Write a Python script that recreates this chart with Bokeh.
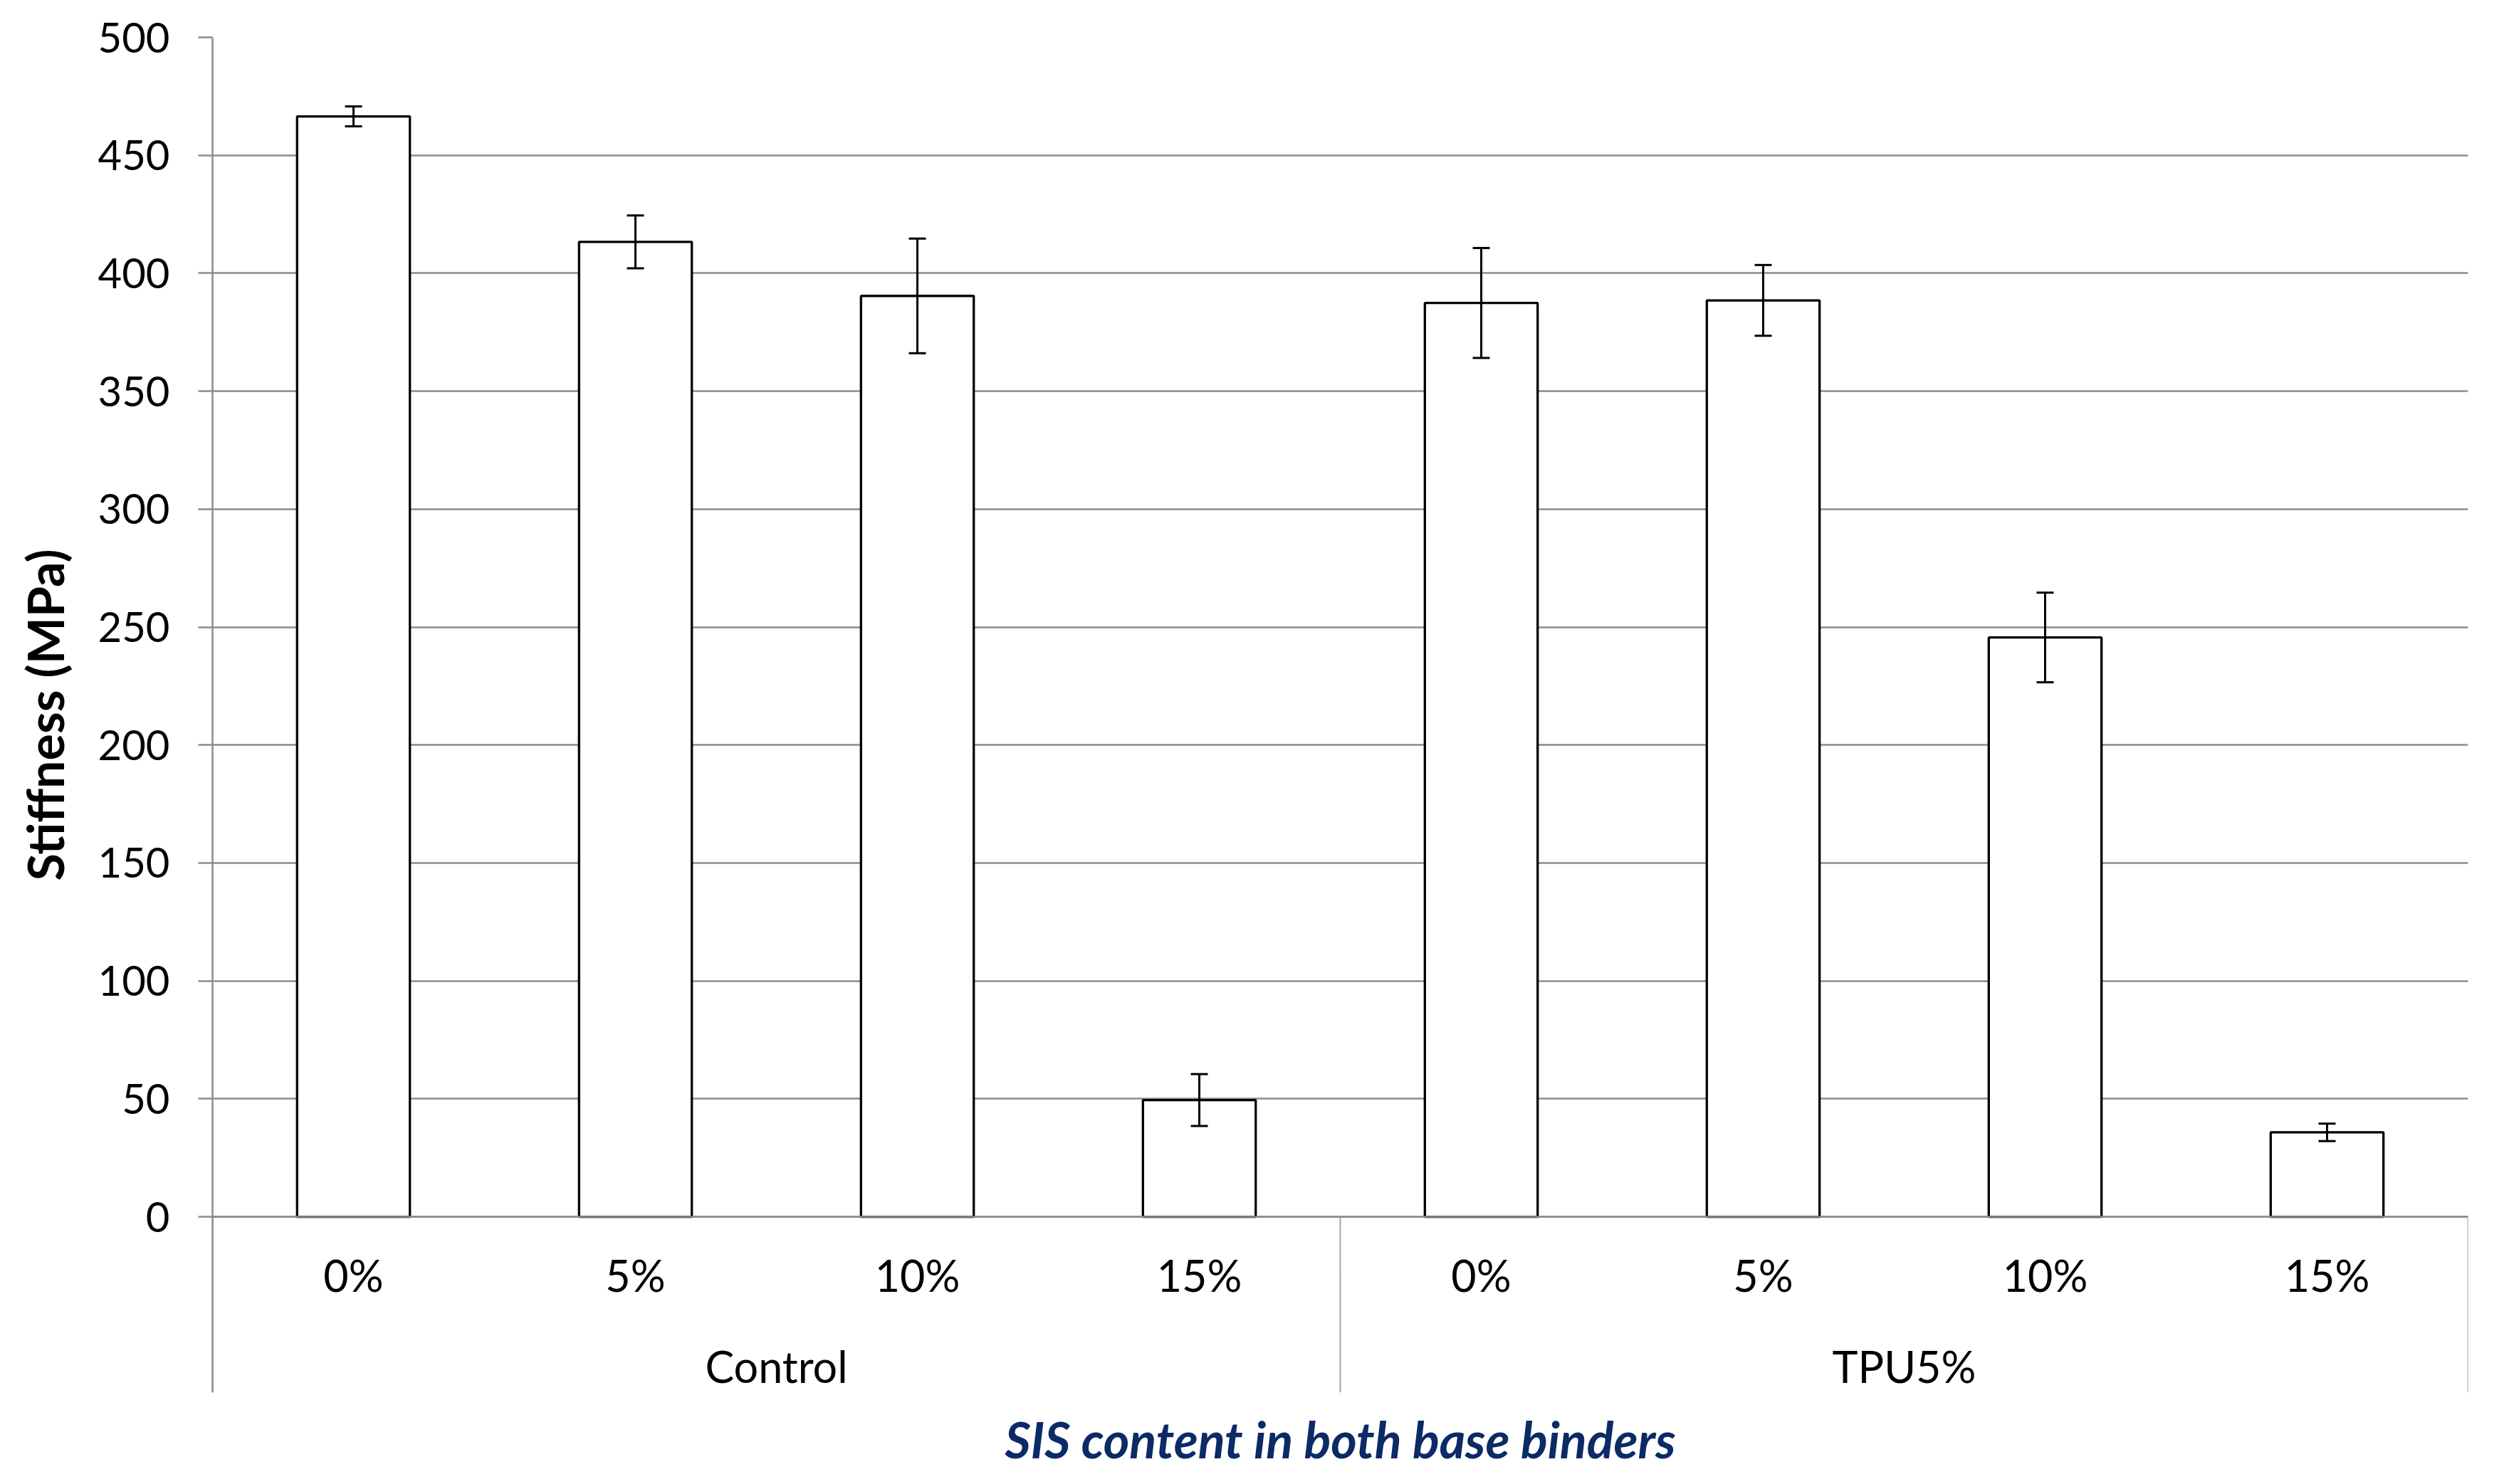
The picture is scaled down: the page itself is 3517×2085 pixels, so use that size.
from bokeh.plotting import figure
from bokeh.models import (FactorRange, Range1d, ColumnDataSource, Whisker, TeeHead,
                          FixedTicker, CategoricalAxis, Title)
from bokeh.embed import file_html
from bokeh.resources import INLINE

# ---- data ----
groups = ["Control", "Control", "Control", "Control", "TPU5%", "TPU5%", "TPU5%", "TPU5%"]
sis_content = ["0%", "5%", "10%", "15%", "0%", "5%", "10%", "15%"]
stiffness = [466.5, 413.3, 390.4, 49.5, 387.4, 388.5, 245.6, 35.8]
std_err = [4.2, 11.2, 24.3, 11.0, 23.3, 15.0, 19.0, 3.7]
y_ticks = [0, 50, 100, 150, 200, 250, 300, 350, 400, 450, 500]
y_title = "Stiffness (MPa)"
x_title = "SIS content in both base binders"

factors = list(zip(groups, sis_content))
src = ColumnDataSource(dict(
    x=factors, top=stiffness,
    upper=[v + e for v, e in zip(stiffness, std_err)],
    lower=[v - e for v, e in zip(stiffness, std_err)],
))

FONT = "Lato"
GRID = "#8c8c8c"
Y_BOTTOM = -74.5   # lower end of the category-axis box
LBL = "61px"
TTL = "70px"

p = figure(width=3517, height=2085,
           x_range=FactorRange(*factors, factor_padding=0, group_padding=0, range_padding=0),
           y_range=Range1d(Y_BOTTOM, 500),
           output_backend="svg", toolbar_location=None,
           min_border_left=298, min_border_right=51, min_border_top=52, min_border_bottom=129)
p.outline_line_color = None
p.background_fill_color = "white"
p.border_fill_color = "white"

# grid
p.xgrid.visible = False
p.ygrid.ticker = FixedTicker(ticks=y_ticks)
p.ygrid.grid_line_color = GRID
p.ygrid.grid_line_width = 2.5

# y axis
p.yaxis.ticker = FixedTicker(ticks=y_ticks)
p.yaxis.axis_line_color = GRID
p.yaxis.axis_line_width = 2.5
p.yaxis.major_tick_line_color = GRID
p.yaxis.major_tick_line_width = 2.5
p.yaxis.major_tick_out = 20
p.yaxis.major_tick_in = 0
p.yaxis.minor_tick_line_color = None
p.yaxis.major_label_standoff = 40
p.yaxis.major_label_text_font = FONT
p.yaxis.major_label_text_font_size = "58px"
p.yaxis.major_label_text_color = "black"
p.yaxis.axis_label = y_title
p.yaxis.axis_label_text_font = FONT
p.yaxis.axis_label_text_font_size = TTL
p.yaxis.axis_label_text_font_style = "bold"
p.yaxis.axis_label_text_color = "black"
p.yaxis.axis_label_standoff = 30

# x axis: sub-labels (SIS content), at y = 0
xa = p.xaxis[0]
xa.fixed_location = 0
xa.axis_line_color = GRID
xa.axis_line_width = 2.5
xa.major_tick_line_color = None
xa.minor_tick_line_color = None
xa.separator_line_color = None
xa.major_label_standoff = 39
xa.major_label_text_font = FONT
xa.major_label_text_font_size = LBL
xa.major_label_text_color = "black"
xa.group_text_color = None

# second axis: group labels
xg = CategoricalAxis(fixed_location=0)
xg.axis_line_color = None
xg.major_tick_line_color = None
xg.minor_tick_line_color = None
xg.separator_line_color = None
xg.major_label_text_color = None
xg.major_label_text_font = FONT
xg.major_label_text_font_size = LBL
xg.major_label_standoff = 167
xg.group_text_font = FONT
xg.group_text_font_size = LBL
xg.group_text_font_style = "normal"
xg.group_text_color = "black"
p.add_layout(xg, "below")

# group separators (at the group boundaries of the factor range)
bounds = [0]
for i in range(1, len(groups)):
    if groups[i] != groups[i - 1]:
        bounds.append(i)
bounds.append(len(groups))
p.segment(x0=bounds, y0=[0] * len(bounds), x1=bounds, y1=[Y_BOTTOM] * len(bounds),
          line_color="#a6a6a6", line_width=2)

# bars
p.vbar(x="x", top="top", bottom=0, width=0.4, source=src,
       fill_color="white", line_color="black", line_width=3.3)

# error bars
w = Whisker(base="x", upper="upper", lower="lower", source=src, level="overlay",
            line_color="black", line_width=3,
            upper_head=TeeHead(size=24, line_color="black", line_width=3),
            lower_head=TeeHead(size=24, line_color="black", line_width=3))
p.add_layout(w)

# x-axis title
p.add_layout(Title(text=x_title, align="center", vertical_align="bottom",
                   text_font=FONT, text_font_size=TTL, text_font_style="bold italic",
                   text_color="#0b2a66", standoff=42), "below")

open("out.html", "w").write(file_html(p, INLINE))
